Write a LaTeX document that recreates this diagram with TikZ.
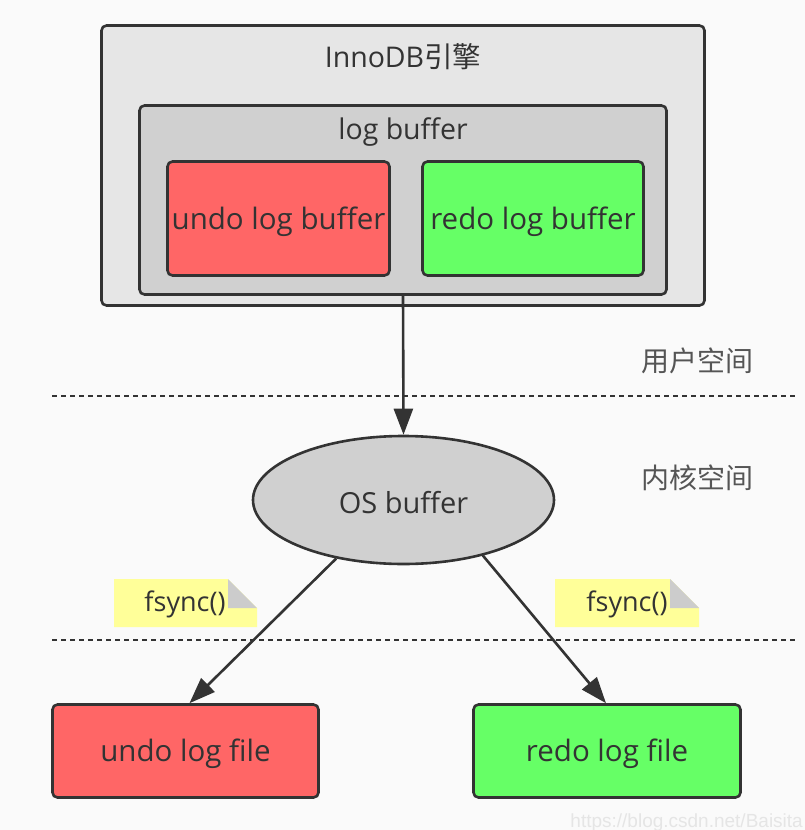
\documentclass[tikz,border=0pt]{standalone}
\usepackage{fontspec}
\setmainfont{Open Sans}
\newfontfamily\cjk{Noto Sans CJK SC}
\newfontfamily\wmfont{Liberation Sans}
\usetikzlibrary{shapes.geometric,arrows.meta,calc}
\definecolor{bg}{HTML}{FAFAFA}
\definecolor{edge}{HTML}{333333}
\definecolor{txt}{HTML}{333333}
\definecolor{outerfill}{HTML}{E6E6E6}
\definecolor{innerfill}{HTML}{D0D0D0}
\definecolor{redfill}{HTML}{FF6666}
\definecolor{greenfill}{HTML}{66FF66}
\definecolor{notefill}{HTML}{FFFF99}
\definecolor{foldfill}{HTML}{CCCCCC}
\definecolor{sidetxt}{HTML}{555555}
\newcommand{\dropt}[1]{\raisebox{-3pt}[\height][\depth]{#1}}
\tikzset{
  boxstyle/.style={draw=edge, line width=2.6pt, rounded corners=5pt, rectangle, inner sep=0pt, text=txt,
    font=\fontsize{29.5}{34}\selectfont},
  plaintext/.style={inner sep=0pt, text=txt, font=\fontsize{28.5}{33}\selectfont},
  sidelabel/.style={inner sep=0pt, text=sidetxt, font=\cjk\fontsize{28}{32}\selectfont},
  notetext/.style={inner sep=0pt, text=txt, font=\fontsize{27}{31}\selectfont},
  flow/.style={draw=edge, line width=2.6pt, -{Triangle[length=26pt,width=19pt]}},
  divider/.style={draw=edge, line width=2.5pt, dash pattern=on 5pt off 4pt}
}
\begin{document}
\begin{tikzpicture}[x=1pt,y=-1pt]
\useasboundingbox (0,0) rectangle (805,830);
\fill[bg] (0,0) rectangle (805,830);

% boxes
\node[boxstyle, fill=outerfill, minimum width=603pt, minimum height=280pt] (innodb) at (403,165.5) {};
\node[plaintext] (innodbtxt) at (403,57) {InnoDB{\cjk 引擎}};
\node[boxstyle, fill=innerfill, minimum width=527pt, minimum height=189pt] (logbuf) at (403,200) {};
\node[plaintext] (logbuftxt) at (403,132) {log buffer};
\node[boxstyle, fill=redfill, minimum width=222pt, minimum height=114pt] (undobuf) at (278.5,218.5) {\dropt{undo log buffer}};
\node[boxstyle, fill=greenfill, minimum width=221pt, minimum height=114pt] (redobuf) at (533,218.5) {\dropt{redo log buffer}};

% dividers
\coordinate (d1l) at (52,396);
\coordinate (d1r) at (797,396);
\coordinate (d2l) at (52,640);
\coordinate (d2r) at (797,640);
\draw[divider] (d1l) -- (d1r);
\draw[divider] (d2l) -- (d2r);

\node[sidelabel] (user) at (697,361) {用户空间};
\node[sidelabel] (kernel) at (697,478) {内核空间};

% OS buffer
\node[ellipse, draw=edge, line width=2.6pt, fill=innerfill, minimum width=301pt, minimum height=128pt,
  inner sep=0pt, text=txt, font=\fontsize{29}{33}\selectfont] (os) at (403.5,500) {\dropt{OS buffer}};

% files
\node[boxstyle, fill=redfill, minimum width=266pt, minimum height=93pt] (undofile) at (185.5,751) {\dropt{undo log file}};
\node[boxstyle, fill=greenfill, minimum width=267pt, minimum height=93pt] (redofile) at (607,751) {\dropt{redo log file}};

% arrows
\draw[flow] (logbuf.south) -- (os.north);
\draw[flow] (os.221) -- ($(undofile.north)+(4,0)$);
\draw[flow] (os.325) -- ($(redofile.north)+(-1,0)$);

% notes
\fill[notefill] (114,579) -- (228,579) -- (257,608) -- (257,627) -- (114,627) -- cycle;
\fill[foldfill] (228,579) -- (257,608) -- (228,608) -- cycle;
\node[notetext] (fs1) at (185,604) {fsync()};
\fill[notefill] (555,579) -- (670,579) -- (699,608) -- (699,627) -- (555,627) -- cycle;
\fill[foldfill] (670,579) -- (699,608) -- (670,608) -- cycle;
\node[notetext] (fs2) at (627,604) {fsync()};

% watermark
\node[anchor=base east, inner sep=0pt, text=black!10, font=\wmfont\fontsize{19}{23}\selectfont] (wm) at (803,827) {https://blog.csdn.net/Baisita};
\end{tikzpicture}
\end{document}
